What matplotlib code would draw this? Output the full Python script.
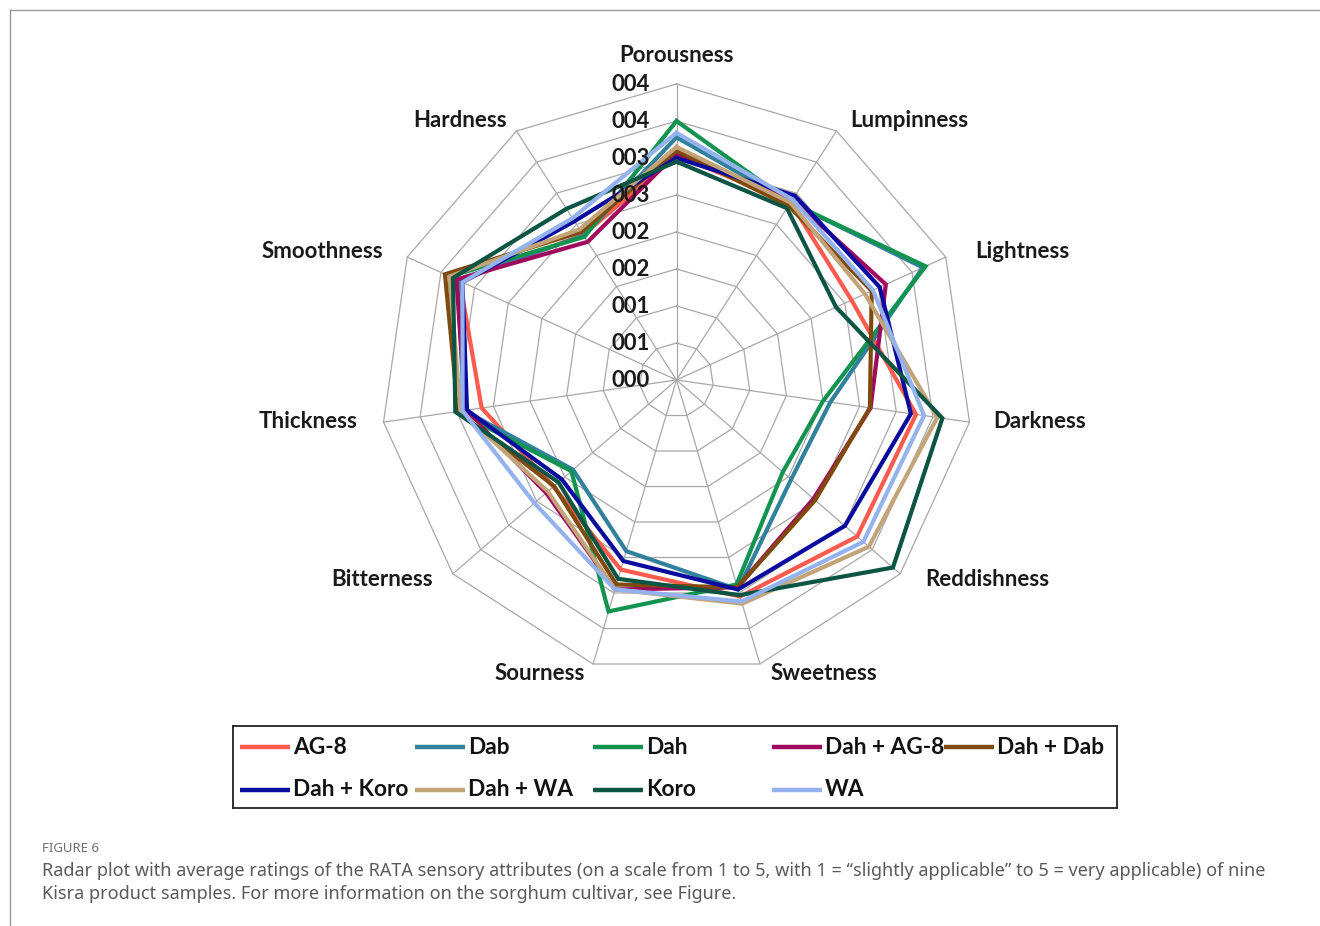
import matplotlib.pyplot as plt
import numpy as np
from matplotlib.lines import Line2D

# RATA attributes, clockwise from the top
attributes = ['Porousness', 'Lumpinness', 'Lightness', 'Darkness', 'Reddishness',
              'Sweetness', 'Sourness', 'Bitterness', 'Thickness', 'Smoothness',
              'Hardness']
ring_values = [0, 0.5, 1, 1.5, 2, 2.5, 3, 3.5, 4]
ring_labels = ['000', '001', '001', '002', '002', '003', '003', '004', '004']

samples = ['AG-8', 'Dab', 'Dah', 'Dah + AG-8', 'Dah + Dab',
           'Dah + Koro', 'Dah + WA', 'Koro', 'WA']

ag8 = [3.04, 2.85, 2.60, 3.27, 3.23, 3.05, 2.67, 2.20, 2.66, 3.22, 2.33]
dab = [3.28, 2.85, 3.66, 2.10, 2.05, 2.95, 2.41, 1.85, 2.90, 3.25, 2.32]
dah = [3.50, 2.85, 3.70, 2.00, 1.90, 2.88, 3.26, 1.88, 3.00, 3.37, 2.30]
dah_ag8 = [3.06, 2.90, 3.11, 2.65, 2.45, 2.92, 2.95, 2.33, 2.88, 3.27, 2.22]
dah_dab = [3.10, 2.80, 2.90, 2.64, 2.48, 2.92, 2.88, 2.19, 2.98, 3.44, 2.38]
dah_koro = [3.00, 2.96, 3.02, 3.20, 3.01, 2.95, 2.55, 2.05, 2.86, 3.18, 2.55]
dah_wa = [3.15, 2.85, 2.80, 3.56, 3.44, 3.15, 2.95, 2.30, 2.95, 3.37, 2.42]
koro = [2.95, 2.76, 2.37, 3.63, 3.87, 3.03, 2.80, 2.11, 3.02, 3.32, 2.75]
wa = [3.34, 2.90, 2.92, 3.38, 3.34, 3.12, 2.95, 2.54, 2.92, 3.18, 2.60]

series = [ag8, dab, dah, dah_ag8, dah_dab, dah_koro, dah_wa, koro, wa]
colors = ['#FF5A4E', '#31819C', '#12934F', '#A0095E', '#7F4A0C',
          '#0A0A9E', '#C2A478', '#0C5443', '#93B2EE']

W, H = 1320, 926
fig = plt.figure(figsize=(W / 100, H / 100), dpi=100)

# polar axes centred at (676, 380) px with a 296 px outer ring
cx, cy, R = 676.5, 380, 296
ax = fig.add_axes([(cx - R) / W, (H - cy - R) / H, 2 * R / W, 2 * R / H],
                  projection='polar')
ax.set_theta_zero_location('N')
ax.set_theta_direction(-1)
ax.patch.set_alpha(0)

n = len(attributes)
theta = np.linspace(0, 2 * np.pi, n, endpoint=False)
closed = np.append(theta, theta[0])

grid_c = '#A8A8A8'
for r in ring_values[1:]:
    ax.plot(closed, [r] * (n + 1), color=grid_c, lw=0.9, clip_on=False, zorder=1)
for t in theta:
    ax.plot([t, t], [0, ring_values[-1]], color=grid_c, lw=0.9, clip_on=False, zorder=1)

for vals, c in zip(series, colors):
    ax.plot(closed, vals + vals[:1], color=c, lw=3, clip_on=False, zorder=3,
            solid_joinstyle='miter')

ax.set_ylim(0, 4)
ax.grid(False)
ax.spines['polar'].set_visible(False)
ax.set_xticks([])
ax.set_yticks([])

lab_font = dict(fontsize=16, fontweight='bold', family='Lato', color='#1a1a1a')

# radial scale labels, left of the top spoke
for r, lbl in zip(ring_values, ring_labels):
    ax.annotate(lbl, xy=(0, r), xytext=(-46, 0), textcoords='offset pixels',
                ha='center', va='center', annotation_clip=False, zorder=4, **lab_font)

# attribute names outside the outer ring
offsets = [(0, 29), (14, 10), (29, 6), (24, 1), (25, -6), (11, -9),
           (-8, -9), (-20, -6), (-26, 1), (-24, 6), (-10, 10)]
for t, name, off in zip(theta, attributes, offsets):
    ha = 'center' if off[0] == 0 else ('left' if off[0] > 0 else 'right')
    ax.annotate(name, xy=(t, ring_values[-1]), xytext=off, textcoords='offset pixels',
                ha=ha, va='center', annotation_clip=False, **lab_font)

# legend box
lx0, ly0, lx1, ly1 = 233, 726, 1117, 808
lax = fig.add_axes([lx0 / W, (H - ly1) / H, (lx1 - lx0) / W, (ly1 - ly0) / H])
lax.set_xlim(lx0, lx1)
lax.set_ylim(ly1, ly0)
lax.set_xticks([])
lax.set_yticks([])
for s in lax.spines.values():
    s.set_linewidth(1.3)
    s.set_color('#222222')

col_x = [240, 415, 593, 772, 944]
row_y = [747, 790]
for i, (name, c) in enumerate(zip(samples, colors)):
    x = col_x[i % 5]
    y = row_y[i // 5]
    lax.plot([x, x + 50], [y, y], color=c, lw=3.2, solid_capstyle='butt')
    lax.text(x + 53, y, name, ha='left', va='center', fontsize=16.3,
             fontweight='bold', family='Lato', color='#111111')

# caption
fig.text(42 / W, 1 - 848 / H, 'FIGURE 6', fontsize=9.5, color='#707070',
         family='Noto Sans', va='center')
fig.text(42 / W, 1 - 871 / H,
         'Radar plot with average ratings of the RATA sensory attributes (on a scale from 1 to 5, '
         'with 1 = \u201cslightly applicable\u201d to 5 = very applicable) of nine',
         fontsize=13, color='#5a5a5a', family='Noto Sans', va='center')
fig.text(42 / W, 1 - 894 / H,
         'Kisra product samples. For more information on the sorghum cultivar, see Figure.',
         fontsize=13, color='#5a5a5a', family='Noto Sans', va='center')

# page frame along the top and left edges
frame_c = '#9a9a9a'
fig.add_artist(Line2D([10 / W, 1], [1 - 10 / H, 1 - 10 / H], color=frame_c, lw=1))
fig.add_artist(Line2D([10 / W, 10 / W], [0, 1 - 10 / H], color=frame_c, lw=1))

fig.savefig('out.png', dpi=100, facecolor='white')
